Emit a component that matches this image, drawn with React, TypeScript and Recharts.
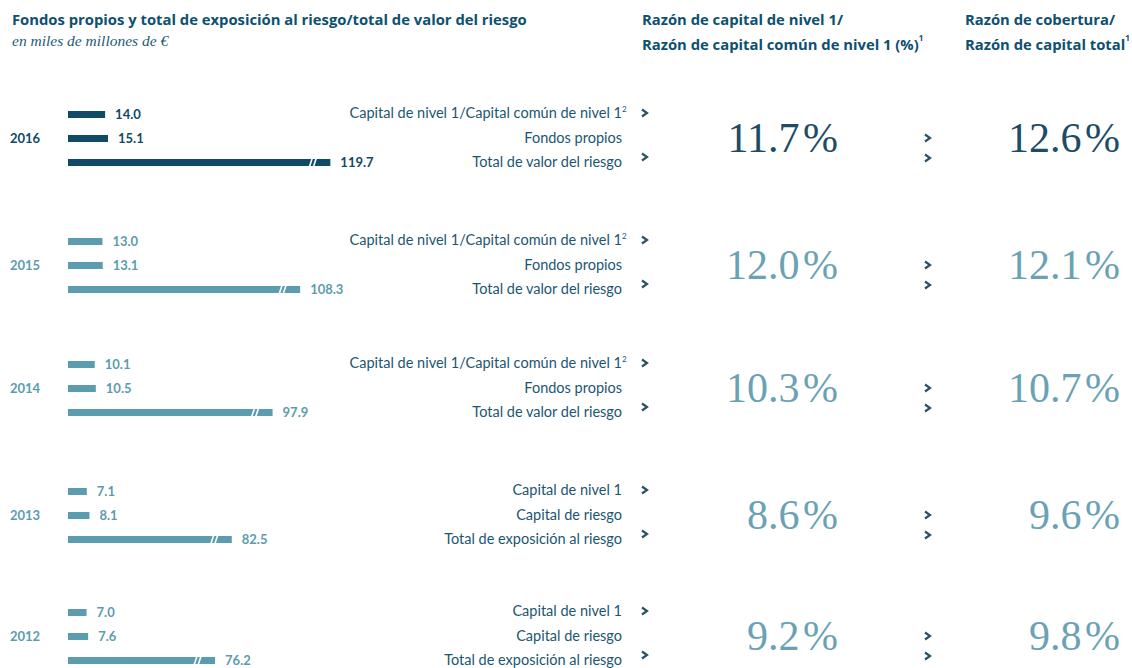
import { BarChart, Bar, XAxis, YAxis, LabelList } from "recharts";

const years = ["2016", "2015", "2014", "2013", "2012"];
const tier1 = [14.0, 13.0, 10.1, 7.1, 7.0];
const ownFunds = [15.1, 13.1, 10.5, 8.1, 7.6];
const totalRisk = [119.7, 108.3, 97.9, 82.5, 76.2];
const tier1Ratio = [11.7, 12.0, 10.3, 8.6, 9.2];
const totalRatio = [12.6, 12.1, 10.7, 9.6, 9.8];

const labelsNew = ["Capital de nivel 1/Capital común de nivel 1", "Fondos propios", "Total de valor del riesgo"];
const labelsOld = ["Capital de nivel 1", "Capital de riesgo", "Total de exposición al riesgo"];

// units cut out of the long bar by the axis break
const BREAK_UNITS = 20.7;

const DARK = "#0f4a66";
const LIGHT = "#5b9cae";
const TEXT = "#1b5672";
const HEAD = "#0d5070";
const SANS = "Lato, 'Open Sans', sans-serif";
const HEAD_SANS = "'Open Sans', sans-serif";
const SERIF = "'Liberation Serif', serif";

const centers = [138, 265, 388, 515, 636];

function BrokenBar(props: any) {
  const { x, y, width, height, fill, index } = props;
  if (index !== 2) return <rect x={x} y={y} width={width} height={height} fill={fill} />;
  const gx = x + width - 20;
  return (
    <g>
      <rect x={x} y={y} width={width} height={height} fill={fill} />
      <line x1={gx - 1} y1={y + height + 1} x2={gx + 2} y2={y - 1} stroke="#fff" strokeWidth={1.6} />
      <line x1={gx + 3} y1={y + height + 1} x2={gx + 6} y2={y - 1} stroke="#fff" strokeWidth={1.6} />
    </g>
  );
}

function Arrow({ x, y }: { x: number; y: number }) {
  return (
    <svg style={{ position: "absolute", left: x - 5, top: y - 6 }} width={12} height={12}>
      <polyline points="3,2.5 8,6 3,9.5" fill="none" stroke="#2a5268" strokeWidth={2.2} />
    </svg>
  );
}

function YearBlock({ i }: { i: number }) {
  const c = centers[i];
  const color = i === 0 ? DARK : LIGHT;
  const pctColor = i === 0 ? "#1c4c66" : "#6aa2b4";
  const labels = i < 3 ? labelsNew : labelsOld;
  const data = [
    { name: "a", value: tier1[i], label: tier1[i].toFixed(1) },
    { name: "b", value: ownFunds[i], label: ownFunds[i].toFixed(1) },
    { name: "c", value: totalRisk[i] - BREAK_UNITS, label: totalRisk[i].toFixed(1) },
  ];
  return (
    <>
      <div style={{ position: "absolute", left: 10, top: c - 10, lineHeight: "20px", fontFamily: SANS, fontWeight: 700, fontSize: 13, color }}>
        {years[i]}
      </div>
      <div style={{ position: "absolute", left: 68, top: c - 36 }}>
        <BarChart width={400} height={72} data={data} layout="vertical" margin={{ top: 0, right: 82, bottom: 0, left: 0 }}>
          <XAxis type="number" domain={[0, 120]} hide />
          <YAxis type="category" dataKey="name" hide />
          <Bar dataKey="value" fill={color} barSize={7} isAnimationActive={false} shape={<BrokenBar />}>
            <LabelList dataKey="label" position="right" offset={10} style={{ fontFamily: SANS, fontWeight: 700, fontSize: 13, fill: color }} />
          </Bar>
        </BarChart>
      </div>
      {labels.map((t, k) => (
        <div
          key={t}
          style={{ position: "absolute", right: 1132 - 622, top: c - 25 + k * 24.5 - 8, lineHeight: "16px", fontFamily: SANS, fontSize: 14.5, color: TEXT, whiteSpace: "nowrap" }}
        >
          {t}
          {k === 0 && i < 3 ? <sup style={{ fontSize: 8, position: "absolute", top: -4 }}>2</sup> : null}
        </div>
      ))}
      <Arrow x={644} y={c - 25} />
      <Arrow x={644} y={c + 19} />
      <Arrow x={927} y={c} />
      <Arrow x={927} y={c + 20} />
      <div style={{ position: "absolute", right: 1132 - 838, top: c - 25, lineHeight: "50px", fontFamily: SERIF, fontSize: 42, color: pctColor, whiteSpace: "nowrap" }}>
        {tier1Ratio[i].toFixed(1)}
        {"\u200A%"}
      </div>
      <div style={{ position: "absolute", right: 1132 - 1120, top: c - 25, lineHeight: "50px", fontFamily: SERIF, fontSize: 42, color: pctColor, whiteSpace: "nowrap" }}>
        {totalRatio[i].toFixed(1)}
        {"\u200A%"}
      </div>
    </>
  );
}

export default function App() {
  return (
    <div style={{ position: "absolute", left: 0, top: 0, width: 1132, height: 668, background: "#fff", overflow: "hidden" }}>
      <div style={{ position: "absolute", left: 12, top: 8, lineHeight: "22px", fontFamily: HEAD_SANS, fontWeight: 700, fontSize: 14.8, color: HEAD, whiteSpace: "nowrap" }}>
        Fondos propios y total de exposición al riesgo/total de valor del riesgo
      </div>
      <div style={{ position: "absolute", left: 12, top: 31, lineHeight: "20px", fontFamily: SERIF, fontStyle: "italic", fontSize: 15.5, color: "#1d5a78", whiteSpace: "nowrap" }}>
        en miles de millones de €
      </div>
      <div style={{ position: "absolute", left: 642, top: 9, fontFamily: HEAD_SANS, fontWeight: 700, fontSize: 14.8, lineHeight: "21px", color: HEAD, whiteSpace: "nowrap" }}>
        Razón de capital de nivel 1/
        <br />
        Razón de capital común de nivel 1 (%)<sup style={{ fontSize: 8, position: "relative", top: -3 }}>1</sup>
      </div>
      <div style={{ position: "absolute", left: 965, top: 9, fontFamily: HEAD_SANS, fontWeight: 700, fontSize: 14.8, lineHeight: "21px", color: HEAD, whiteSpace: "nowrap" }}>
        Razón de cobertura/
        <br />
        Razón de capital total<sup style={{ fontSize: 8, position: "relative", top: -3 }}>1</sup>
      </div>
      {years.map((y, i) => (
        <YearBlock key={y} i={i} />
      ))}
    </div>
  );
}
